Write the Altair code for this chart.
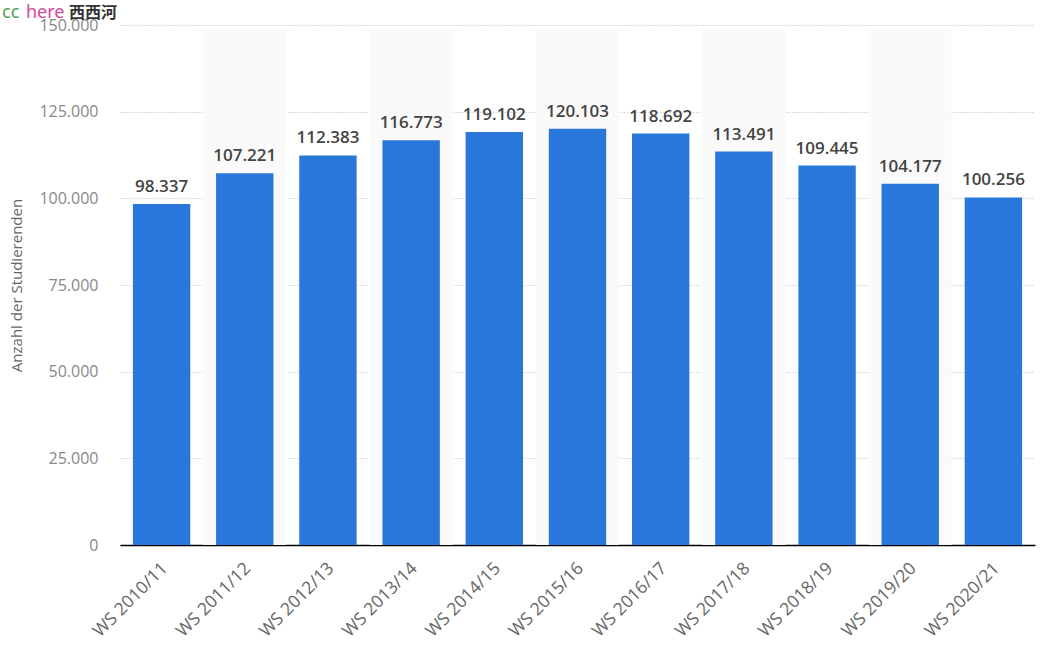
import altair as alt
import pandas as pd

semesters = ["WS 2010/11", "WS 2011/12", "WS 2012/13", "WS 2013/14", "WS 2014/15",
             "WS 2015/16", "WS 2016/17", "WS 2017/18", "WS 2018/19", "WS 2019/20", "WS 2020/21"]
students = [98337, 107221, 112383, 116773, 119102, 120103, 118692, 113491, 109445, 104177, 100256]

df = pd.DataFrame({"semester": semesters, "value": students, "idx": list(range(len(semesters)))})

FONT = "Open Sans"
PAD = 0.31

xenc = alt.X("semester:N", sort=semesters, title=None,
             scale=alt.Scale(paddingInner=PAD, paddingOuter=PAD / 2),
             axis=alt.Axis(labelAngle=-45, labelFontSize=17.5, labelColor="#666666",
                           labelFont=FONT, labelPadding=14, labelOffset=-3, ticks=False,
                           domainColor="#000000", domainWidth=1.5, grid=False))
yscale = alt.Scale(domain=[0, 150000], nice=False)
yenc = alt.Y("value:Q", title="Anzahl der Studierenden",
             scale=yscale,
             axis=alt.Axis(values=[0, 25000, 50000, 75000, 100000, 125000, 150000],
                           labelExpr="replace(format(datum.value, ',d'), ',', '.')",
                           labelFontSize=16, labelColor="#888888", labelFont=FONT,
                           labelPadding=22, ticks=False, domain=False,
                           grid=True, gridDash=[1, 2], gridColor="#bbbbbb", gridWidth=1,
                           titleFont=FONT, titleFontSize=15, titleColor="#666666",
                           titleFontWeight="normal", titlePadding=14))

base = alt.Chart(df)

bands = base.transform_filter("datum.idx % 2 == 1").mark_bar(
    color="#fafafa", width=alt.RelativeBandSize(1 / (1 - PAD))
).encode(x=xenc, y=alt.value(5), y2=alt.value(520))

bars = base.mark_bar(color="#2a77dc").encode(x=xenc, y=yenc)

labels = base.transform_calculate(
    lbl="replace(format(datum.value, ',d'), ',', '.')"
).mark_text(dy=-8, baseline="bottom", font=FONT, fontSize=17, fontWeight=600,
            color="#444444").encode(x=xenc, y=yenc, text="lbl:N")

wm1 = alt.Chart(pd.DataFrame({"t": ["cc"]})).mark_text(
    align="left", baseline="alphabetic", font="Noto Sans", fontSize=18, color="#4f9f55"
).encode(x=alt.value(-118), y=alt.value(-7), text="t:N")
wm2 = alt.Chart(pd.DataFrame({"t": ["here"]})).mark_text(
    align="left", baseline="alphabetic", font="Noto Sans", fontSize=18, color="#d6459a"
).encode(x=alt.value(-94), y=alt.value(-7), text="t:N")
wm3 = alt.Chart(pd.DataFrame({"t": ["西西河"]})).mark_text(
    align="left", baseline="alphabetic", font="Noto Sans CJK SC", fontSize=16,
    fontWeight="bold", color="#333333"
).encode(x=alt.value(-51), y=alt.value(-7), text="t:N")

chart = alt.layer(bands, bars, labels, wm1, wm2, wm3).properties(
    width=915, height=520,
    autosize=alt.AutoSizeParams(type="none"),
    padding={"left": 120, "top": 25, "right": 12, "bottom": 110},
).configure(background="#ffffff").configure_view(stroke=None)

chart.save("out.html", embed_options={"renderer": "svg", "actions": False})
